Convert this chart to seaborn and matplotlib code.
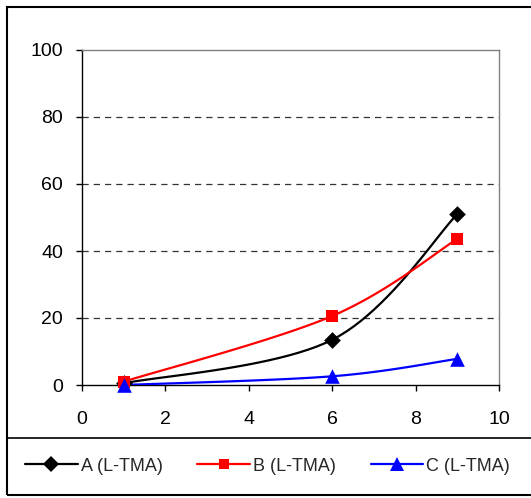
import numpy as np
import pandas as pd
import matplotlib
matplotlib.use("Agg")
import matplotlib.pyplot as plt
from matplotlib.lines import Line2D
from matplotlib.patches import Rectangle
import seaborn as sns

x_vals = [1, 6, 9]
series_a = [0.5, 13.5, 51.0]
series_b = [1.0, 20.6, 43.6]
series_c = [0.0, 2.6, 7.8]
labels = ["A (L-TMA)", "B (L-TMA)", "C (L-TMA)"]
colors = ["#000000", "#FF0000", "#0000FF"]
markers = ["D", "s", "^"]
msizes = [8.5, 8.5, 10.5]
x_ticks = [0, 2, 4, 6, 8, 10]
y_ticks = [0, 20, 40, 60, 80, 100]


def smooth(xs, ys, n=24):
    """Bezier smoothing through the points (spreadsheet-style smoothed line)."""
    p = np.column_stack([xs, ys]).astype(float)
    out = []
    for i in range(len(p) - 1):
        p0 = p[i - 1] if i > 0 else p[i]
        p1, p2 = p[i], p[i + 1]
        p3 = p[i + 2] if i + 2 < len(p) else p[i + 1]
        c1 = p1 + (p2 - p0) / 6.0
        c2 = p2 - (p3 - p1) / 6.0
        t = np.linspace(0, 1, n)[:, None]
        seg = ((1 - t) ** 3) * p1 + 3 * ((1 - t) ** 2) * t * c1 + 3 * (1 - t) * t ** 2 * c2 + t ** 3 * p2
        out.append(seg if i == 0 else seg[1:])
    return np.vstack(out)


sns.set_theme(style="white")
plt.rcParams["font.family"] = ["Liberation Sans", "DejaVu Sans"]

W, H = 531, 498
fig = plt.figure(figsize=(W / 100, H / 100), dpi=100)
ax = fig.add_axes([82 / W, 1 - 385 / H, (499 - 82) / W, (385 - 50) / H])

for ys, lab, col, mk, ms in zip([series_a, series_b, series_c], labels, colors, markers, msizes):
    curve = smooth(x_vals, ys)
    df_curve = pd.DataFrame({"x": curve[:, 0], "y": curve[:, 1]})
    sns.lineplot(data=df_curve, x="x", y="y", sort=False, color=col, lw=1.6, ax=ax, zorder=3)
    df_pts = pd.DataFrame({"x": x_vals, "y": ys})
    sns.scatterplot(data=df_pts, x="x", y="y", marker=mk, s=ms ** 2, color=col,
                    edgecolor=col, linewidth=0, ax=ax, zorder=4, clip_on=False)

ax.set_xlim(0, 10)
ax.set_ylim(0, 100)
ax.set_xticks(x_ticks)
ax.set_yticks(y_ticks)
ax.set_xlabel("")
ax.set_ylabel("")
ax.tick_params(axis="both", which="major", labelsize=14, direction="out", length=4.5,
               width=1, color="#000000", labelcolor="#000000")
ax.tick_params(axis="x", bottom=True, pad=14)
ax.tick_params(axis="y", left=True, pad=9)
for yv in y_ticks[1:-1]:
    ax.axhline(yv, color="#333333", lw=0.9, ls=(0, (5, 4)), zorder=1)
for side in ["left", "bottom"]:
    ax.spines[side].set_color("#000000")
    ax.spines[side].set_linewidth(1.0)
for side in ["top", "right"]:
    ax.spines[side].set_color("#808080")
    ax.spines[side].set_linewidth(1.0)
ax.set_facecolor("white")

# outer chart frame and legend box
frame = Rectangle((7 / W, 1 - 495 / H), 1.2, (495 - 7) / H, transform=fig.transFigure,
                  fill=False, edgecolor="#000000", lw=1.5, zorder=0)
fig.patches.append(frame)
fig.add_artist(Line2D([7 / W, 1.0], [1 - 438 / H, 1 - 438 / H], transform=fig.transFigure,
                      color="#000000", lw=1.2))

handles = [Line2D([], [], color=c, lw=1.6, marker=m, markersize=s * 0.9, markeredgewidth=0)
           for c, m, s in zip(colors, markers, msizes)]
fig.legend(handles, labels, loc="center left", bbox_to_anchor=(18 / W, 1 - 466 / H),
           ncol=3, frameon=False, fontsize=13, handlelength=2.9, handletextpad=0.2,
           columnspacing=1.9, borderaxespad=0)

fig.savefig("out.png", dpi=100)
